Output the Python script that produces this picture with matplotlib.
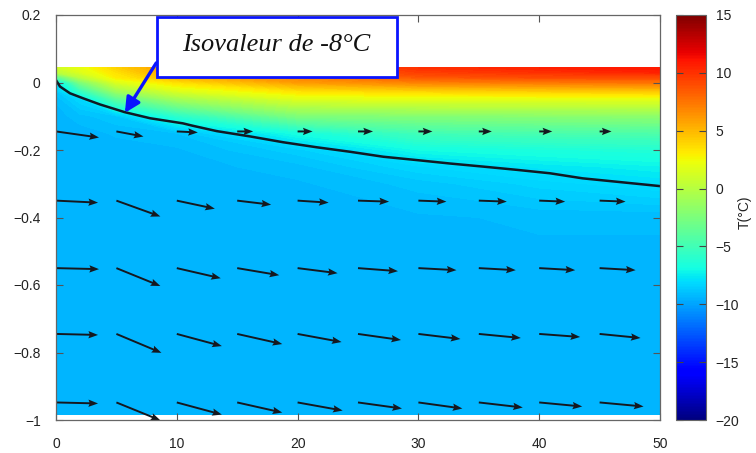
import numpy as np
import matplotlib
matplotlib.use("Agg")
import matplotlib.pyplot as plt
from matplotlib.patches import Rectangle
from matplotlib.cm import ScalarMappable
from matplotlib.colors import Normalize

plt.rcParams['font.family'] = ['Liberation Sans', 'DejaVu Sans']

# ---------------- data ----------------
# temperature field (°C) on a coarse grid: rows = depth y, columns = x
grid_x = [0, 2, 5, 10, 20, 30, 40, 50]
grid_y = [0.043, 0.03, 0.015, 0.0, -0.025, -0.05, -0.1, -0.15, -0.2, -0.25, -0.3, -0.4, -0.6, -0.985]
temp_x0 = [1.0, 0.0, -4.0, -8.1, -8.8, -9.2, -9.4, -9.4, -9.4, -9.4, -9.4, -9.4, -9.4, -9.4]
temp_x2 = [2.0, 1.5, 0.0, -2.5, -5.5, -8.3, -9.1, -9.4, -9.4, -9.4, -9.4, -9.4, -9.4, -9.4]
temp_x5 = [4.0, 3.5, 3.0, 1.5, -1.0, -4.0, -8.8, -9.2, -9.4, -9.4, -9.4, -9.4, -9.4, -9.4]
temp_x10 = [6.5, 6.0, 5.0, 3.5, 1.5, -1.0, -6.0, -9.0, -9.3, -9.4, -9.4, -9.4, -9.4, -9.4]
temp_x20 = [8.5, 8.0, 7.0, 6.0, 3.5, 1.5, -2.5, -6.8, -8.6, -9.1, -9.3, -9.4, -9.4, -9.4]
temp_x30 = [10.0, 9.5, 8.5, 7.0, 4.0, 1.8, -2.2, -5.0, -7.0, -8.3, -8.9, -9.3, -9.4, -9.4]
temp_x40 = [10.5, 10.0, 9.0, 7.3, 4.3, 1.8, -2.0, -4.7, -6.6, -7.7, -8.4, -9.2, -9.4, -9.4]
temp_x50 = [11.0, 10.5, 9.0, 7.5, 4.5, 1.8, -1.8, -4.5, -6.3, -7.3, -8.0, -9.2, -9.4, -9.4]

# -8 °C isoline
iso_x = [0, 0.33, 1.16, 2.26, 3.64, 5.7, 7.8, 10.5, 11.3, 13.3, 16.1, 18.8, 21.6, 24.3,
         27.1, 29.9, 32.6, 35.3, 38.2, 40.9, 43.6, 46.4, 50]
iso_y = [0.007, -0.012, -0.032, -0.047, -0.065, -0.088, -0.106, -0.121, -0.128, -0.144,
         -0.160, -0.177, -0.192, -0.205, -0.220, -0.230, -0.240, -0.249, -0.259, -0.269,
         -0.284, -0.294, -0.307]

# velocity arrows (components in plot units)
arrow_x = [0, 5, 10, 15, 20, 25, 30, 35, 40, 45]
arrow_rows = [-0.145, -0.35, -0.55, -0.745, -0.948]
u_row1 = [3.56, 2.24, 1.74, 1.32, 1.24, 1.24, 1.16, 1.08, 1.08, 0.99]
v_row1 = [-0.018, -0.015, -0.003, 0, 0, 0, 0, 0, 0, 0]
u_row2 = [3.48, 3.64, 3.15, 2.81, 2.57, 2.57, 2.32, 2.32, 2.15, 2.15]
v_row2 = [-0.006, -0.047, -0.024, -0.012, -0.006, -0.003, -0.003, -0.003, -0.003, -0.003]
u_row3 = [3.56, 3.64, 3.64, 3.48, 3.31, 3.31, 3.15, 3.06, 2.98, 2.98]
v_row3 = [-0.003, -0.053, -0.030, -0.021, -0.015, -0.009, -0.006, -0.006, -0.006, -0.006]
u_row4 = [3.48, 3.73, 3.73, 3.73, 3.64, 3.56, 3.48, 3.48, 3.39, 3.39]
v_row4 = [-0.003, -0.056, -0.036, -0.030, -0.024, -0.018, -0.015, -0.012, -0.009, -0.012]
u_row5 = [3.48, 3.64, 3.73, 3.73, 3.73, 3.64, 3.64, 3.64, 3.56, 3.64]
v_row5 = [-0.003, -0.053, -0.036, -0.030, -0.024, -0.018, -0.018, -0.015, -0.012, -0.012]

xticks = [0, 10, 20, 30, 40, 50]
yticks = [-1, -0.8, -0.6, -0.4, -0.2, 0, 0.2]
ytick_labels = ['\u22121', '\u22120.8', '\u22120.6', '\u22120.4', '\u22120.2', '0', '0.2']
cbar_ticks = [-20, -15, -10, -5, 0, 5, 10, 15]
cbar_labels = ['\u221220', '\u221215', '\u221210', '\u22125', '0', '5', '10', '15']
annotation_text = 'Isovaleur de -8°C'
cbar_title = 'T(°C)'

# ---------------- figure ----------------
fig = plt.figure(figsize=(7.56, 4.53), dpi=100)
ax = fig.add_axes([56 / 756, 1 - 420 / 453, 604 / 756, 405 / 453])
cax = fig.add_axes([676 / 756, 1 - 420 / 453, 30 / 756, 405 / 453])

norm = Normalize(vmin=-20, vmax=15)
T = np.column_stack([temp_x0, temp_x2, temp_x5, temp_x10, temp_x20, temp_x30, temp_x40, temp_x50])
X, Y = np.meshgrid(grid_x, grid_y)
ax.contourf(X, Y, T, levels=np.arange(-20, 15.01, 0.25), cmap='jet', norm=norm,
            antialiased=False, zorder=1)

ax.plot(iso_x, iso_y, color='#111a24', lw=1.8, zorder=3)

U = [u_row1, u_row2, u_row3, u_row4, u_row5]
V = [v_row1, v_row2, v_row3, v_row4, v_row5]
QX, QY = np.meshgrid(arrow_x, arrow_rows)
ax.quiver(QX, QY, np.array(U), np.array(V), angles='xy', scale_units='xy', scale=1,
          color='#15181f', width=0.0032, headwidth=3.8, headlength=5.0, headaxislength=4.4,
          zorder=4)

ax.set_xlim(0, 50)
ax.set_ylim(-1, 0.2)
ax.set_xticks(xticks)
ax.set_yticks(yticks)
ax.set_yticklabels(ytick_labels)
ax.tick_params(direction='in', length=5, width=0.8, color='#555555', labelsize=10,
               top=True, right=True, labelcolor='#222222')
ax.tick_params(axis='x', pad=12)
ax.tick_params(axis='y', pad=11)
for s in ax.spines.values():
    s.set_color('#666666')
    s.set_linewidth(0.9)
    s.set_zorder(8)

# annotation box
ax.add_patch(Rectangle((8.36, 0.016), 19.84, 0.178, facecolor='white', edgecolor='#0a14ff',
                       lw=2, zorder=6, clip_on=False))
ax.text(18.2, 0.112, annotation_text, fontsize=19, style='italic',
        family=['Liberation Serif', 'DejaVu Serif'], ha='center', va='center', zorder=7,
        color='#111111')
ax.annotate('', xy=(5.7, -0.09), xytext=(8.3, 0.058),
            arrowprops=dict(arrowstyle='-|>,head_length=0.9,head_width=0.45', color='#0a14ff',
                            lw=2.4, shrinkA=0, shrinkB=0), zorder=6)

cb = fig.colorbar(ScalarMappable(norm=norm, cmap='jet'), cax=cax)
cb.set_ticks(cbar_ticks)
cb.set_ticklabels(cbar_labels)
cax.tick_params(direction='in', length=5, width=0.8, color='#444444', labelsize=10,
                left=True, right=True, pad=7, labelcolor='#222222')
cb.outline.set_edgecolor('#666666')
fig.text(745 / 756, 1 - 212 / 453, cbar_title, rotation=90, ha='center', va='center',
         fontsize=10, color='#222222')

fig.savefig('out.png', dpi=100)
